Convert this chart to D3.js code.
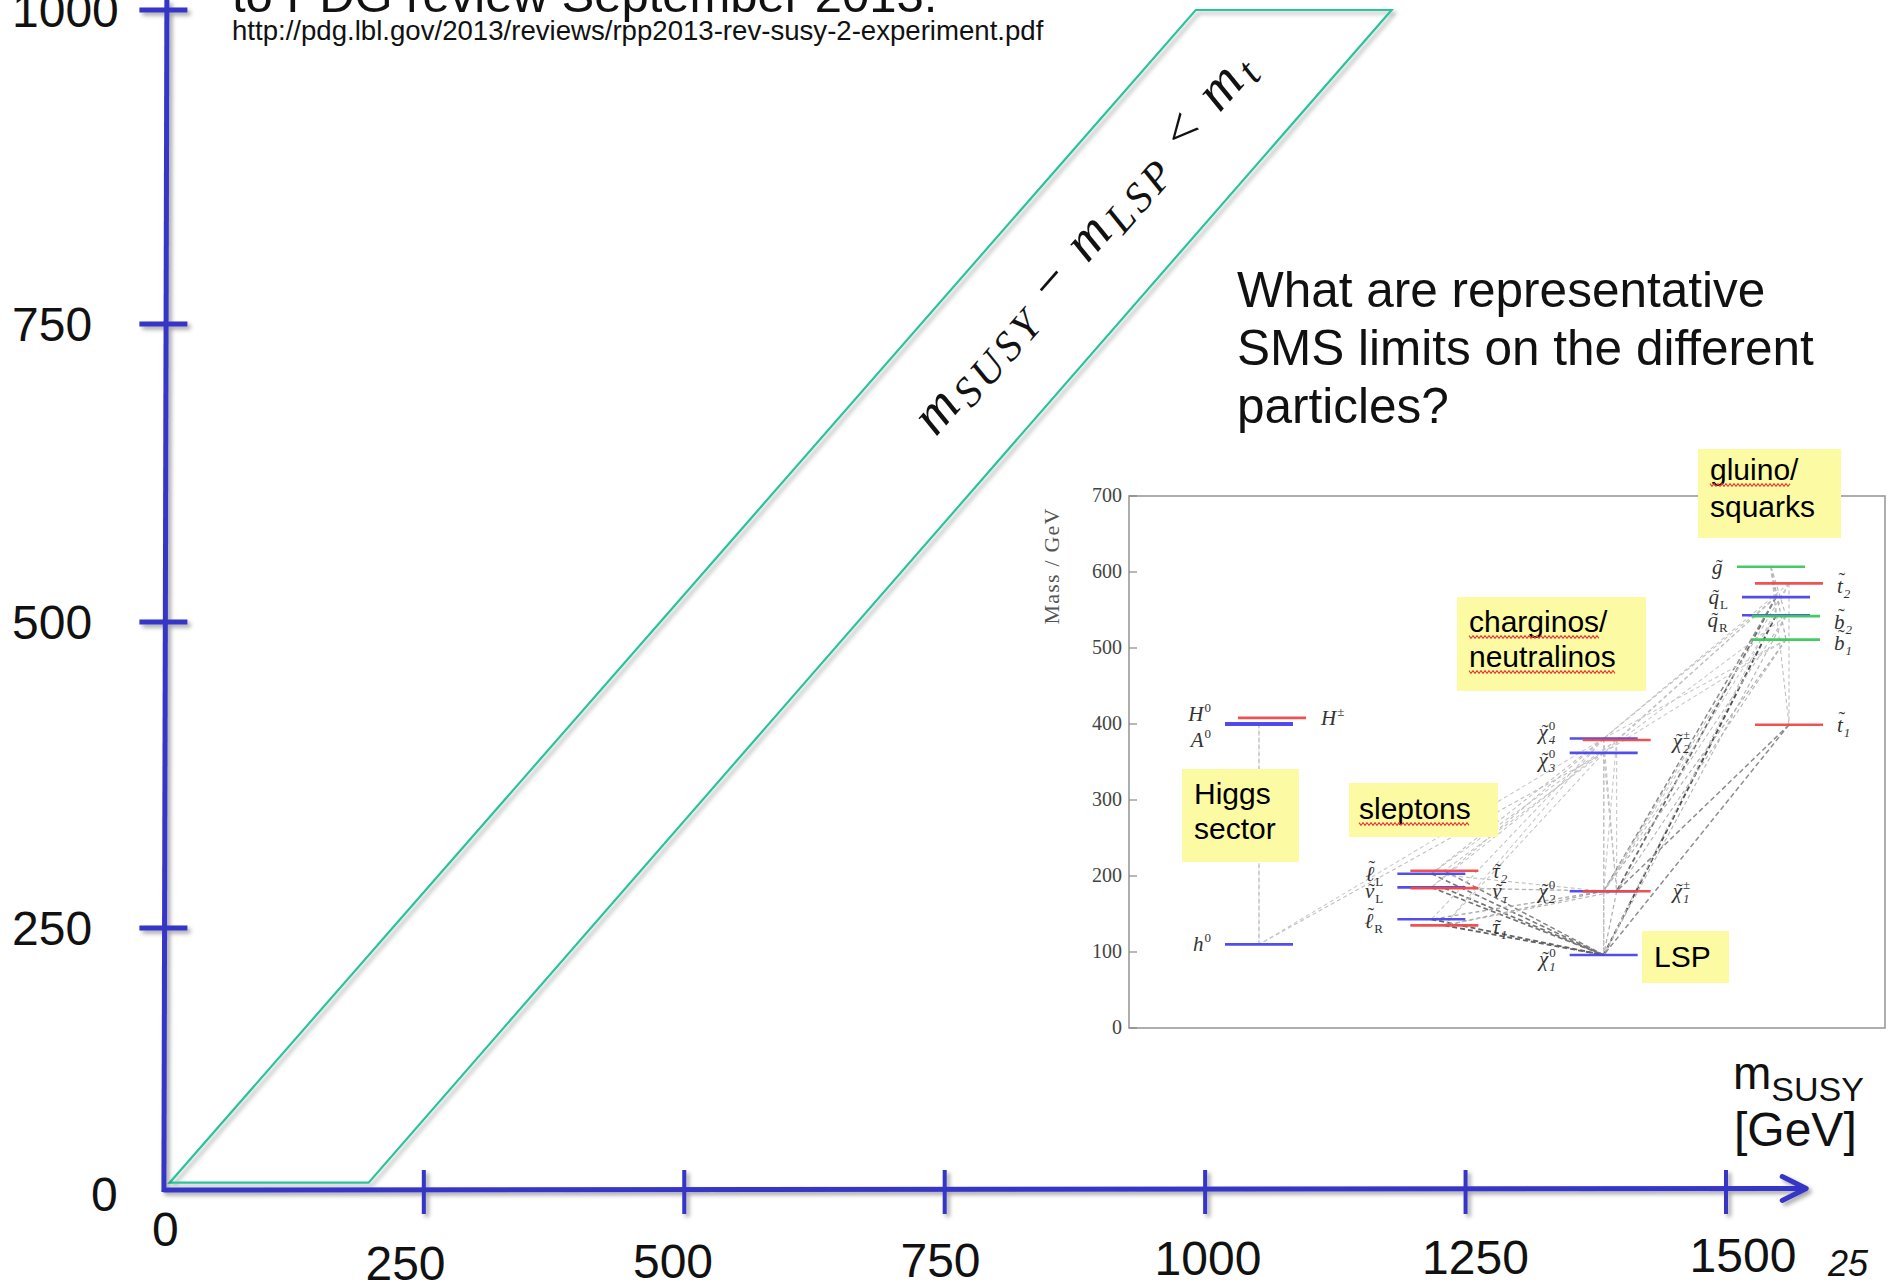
<!DOCTYPE html>
<html><head><meta charset="utf-8">
<script src="https://cdn.jsdelivr.net/npm/d3@7/dist/d3.min.js"></script>
<style>html,body{margin:0;padding:0;background:#fff}svg{display:block}</style>
</head><body>
<svg id="chart" width="1898" height="1285" xmlns="http://www.w3.org/2000/svg"></svg>
<script>
// ================= DATA =================
const xTickValues = [250, 500, 750, 1000, 1250, 1500];
const yTickValues = [250, 500, 750, 1000];
const originLabel = "0";
const xAxisEnd = 1577;                       // arrow tip, GeV
const bandMSUSY = [6, 197, 1179, 991];       // parallelogram corners (mSUSY)
const bandMLSP  = [7, 7, 1000, 1000];        // parallelogram corners (mLSP)
const titleText = "to PDG review September 2013.";
const urlText = "http://pdg.lbl.gov/2013/reviews/rpp2013-rev-susy-2-experiment.pdf";
const questionLines = ["What are representative", "SMS limits on the different", "particles?"];
const slideNumber = "25";

// inset: SUSY mass spectrum
const insetTicks = [0, 100, 200, 300, 400, 500, 600, 700];
const insetAxisTitle = "Mass / GeV";
const columns = ["higgs", "sleptons", "gauginos", "squarks"];
const particleNames   = ["h0","H0","A0","Hpm","lL","nuL","lR","tau2","nutau","tau1","chi01","chi02","chi03","chi04","chipm1","chipm2","gluino","qL","qR","t2","b2","b1","t1"];
const particleMasses  = [110, 401, 399, 408, 203, 185, 143, 207, 184, 135, 96, 180, 362, 381, 180, 379, 607, 567, 543, 585, 542, 511, 399];
const particleColumns = ["higgs","higgs","higgs","higgs","sleptons","sleptons","sleptons","sleptons","sleptons","sleptons","gauginos","gauginos","gauginos","gauginos","gauginos","gauginos","squarks","squarks","squarks","squarks","squarks","squarks","squarks"];
const particleGroups  = ["blue","blue","blue","red","blue","blue","blue","red","red","red","blue","blue","blue","blue","red","red","gluino","blue","blue","red","green","green","red"];
const particleBase    = ["h","H","A","H","\u2113","\u03BD","\u2113","\u03C4","\u03BD","\u03C4","\u03C7","\u03C7","\u03C7","\u03C7","\u03C7","\u03C7","g","q","q","t","b","b","t"];
const particleTilde   = [false,false,false,false,true,true,true,true,true,true,true,true,true,true,true,true,true,true,true,true,true,true,true];
const particleSup     = ["0","0","0","\u00B1","","","","","","","0","0","0","0","\u00B1","\u00B1","","","","","","",""];
const particleSub     = ["","","","","L","L","R","2","\u03C4","1","1","2","3","4","1","2","","L","R","2","2","1","1"];
// decays: parent, daughter, branching weight
const decayLinks = [
  ["H0","h0",0.15],["A0","h0",0.12],
  ["lL","chi01",0.55],["nuL","chi01",0.6],["lR","chi01",0.7],["tau2","chi01",0.5],["nutau","chi01",0.6],["tau1","chi01",0.7],
  ["lL","chi02",0.15],["nuL","chipm1",0.15],["chi02","lR",0.3],["chi02","tau1",0.3],["chipm1","nutau",0.2],["chipm1","tau1",0.2],
  ["chi02","chi01",0.25],["chipm1","chi01",0.25],
  ["chi03","chi01",0.15],["chi03","chi02",0.12],["chi03","chipm1",0.15],["chi04","chi01",0.12],["chi04","chipm1",0.15],["chi04","chi02",0.12],
  ["chipm2","chi02",0.12],["chipm2","chipm1",0.12],["chi03","h0",0.15],["chi04","h0",0.1],
  ["chi04","lL",0.15],["chi04","lR",0.12],["chi04","nuL",0.15],["chi03","tau1",0.12],["chi03","tau2",0.12],["chipm2","nuL",0.12],["chipm2","lL",0.12],["chi04","tau1",0.1],
  ["qL","chipm1",0.65],["qL","chi02",0.45],["qR","chi01",0.8],["b1","chi02",0.25],["b1","chipm1",0.2],["b2","chi01",0.2],["t2","chi02",0.15],["t2","chi01",0.12],
  ["t1","chi01",0.45],["t1","chipm1",0.45],
  ["qL","chi04",0.15],["qL","chi03",0.1],["qL","chipm2",0.15],["b1","chi04",0.1],["b2","chi03",0.1],["t2","chi04",0.12],["qR","chi02",0.1],["b2","chi02",0.15],["b1","chi03",0.1],
  ["gluino","qR",0.2],["gluino","qL",0.2],["gluino","b1",0.25],["gluino","b2",0.2],["gluino","t1",0.15],["t2","t1",0.15]
];
const boxTexts = [["Higgs","sector"],["sleptons"],["charginos/","neutralinos"],["gluino/","squarks"],["LSP"]];

// ================= DRAWING =================
const W = 1898, H = 1285;
const SANS = "'Liberation Sans', Arial, Helvetica, sans-serif";
const SERIF = "'Liberation Serif', 'Times New Roman', serif";
const svg = d3.select("#chart");
const defs = svg.append("defs");
const sh = defs.append("filter").attr("id","shadow").attr("filterUnits","userSpaceOnUse")
  .attr("x",0).attr("y",0).attr("width",W).attr("height",H);
sh.append("feDropShadow").attr("dx",3).attr("dy",3).attr("stdDeviation",2.2)
  .attr("flood-color","#000").attr("flood-opacity",0.35);

// main scales (hand-drawn y axis => piecewise linear through its ticks)
const x = d3.scaleLinear().domain([0, 1500]).range([163.4, 1726]);
const y = d3.scaleLinear().domain([0, 250, 500, 750, 1000]).range([1190, 928, 622, 324, 10]);
// the hand-placed tick labels sit on a slightly wider spacing than the ticks
const xLabelPos = d3.scaleLinear().domain([0, 1500]).range([138, 1743]);
const AX = "#3434c6";

// band
const bandPts = bandMSUSY.map((m, i) => [x(m), y(bandMLSP[i])]);
svg.append("path")
  .attr("d", d3.line()(bandPts) + "Z")
  .attr("fill", "none").attr("stroke", "#2cc39c").attr("stroke-width", 2.2)
  .attr("stroke-linejoin","miter")
  .attr("filter", "url(#shadow)");

// axes
const axes = svg.append("g").attr("filter", "url(#shadow)")
  .attr("stroke", AX).attr("fill","none");
axes.append("line").attr("x1", x(0) + 0.5).attr("y1", y(0) + 2)
  .attr("x2", x(0) + 3.5).attr("y2", 0).attr("stroke-width", 5);
axes.append("line").attr("x1", x(0)).attr("y1", y(0))
  .attr("x2", x(xAxisEnd) - 2).attr("y2", y(0) - 1.5).attr("stroke-width", 5);
axes.append("path")
  .attr("d", `M${x(xAxisEnd) - 24},${y(0) - 13.5} L${x(xAxisEnd)},${y(0) - 1.5} L${x(xAxisEnd) - 24},${y(0) + 10.5}`)
  .attr("stroke-width", 5).attr("stroke-linecap","round").attr("stroke-linejoin","round");
axes.selectAll("line.xt").data(xTickValues).join("line").attr("class","xt")
  .attr("x1", d => x(d)).attr("x2", d => x(d))
  .attr("y1", y(0) - 20).attr("y2", y(0) + 24).attr("stroke-width", 4);
axes.selectAll("line.yt").data(yTickValues).join("line").attr("class","yt")
  .attr("y1", d => y(d)).attr("y2", d => y(d))
  .attr("x1", x(0) - 24).attr("x2", x(0) + 24).attr("stroke-width", 5);

// axis labels
const txt = svg.append("g").attr("font-family", SANS).attr("fill", "#111");
txt.selectAll("text.xl").data(xTickValues).join("text").attr("class","xl")
  .attr("x", d => xLabelPos(d)).attr("y", d => 1281 - (d / 1500) * 9)
  .attr("text-anchor","middle").attr("font-size", 48).text(d => d);
txt.selectAll("text.yl").data(yTickValues).join("text").attr("class","yl")
  .attr("x", 12).attr("y", d => y(d) + 17)
  .attr("font-size", 48).text(d => d);
txt.append("text").attr("x", x(0) + 2).attr("y", 1246).attr("text-anchor","middle")
  .attr("font-size", 48).text(originLabel);
txt.append("text").attr("x", 91).attr("y", y(0) + 21).attr("font-size", 48).text(originLabel);

// x axis title
const xt = txt.append("text").attr("x", 1733).attr("y", 1089).attr("font-size", 46);
xt.append("tspan").text("m");
xt.append("tspan").attr("font-size", 34).attr("dy", 12).text("SUSY");
txt.append("text").attr("x", 1734).attr("y", 1146).attr("font-size", 48).text("[GeV]");

// slide number
txt.append("text").attr("x", 1828).attr("y", 1276).attr("font-size", 36)
  .attr("font-style","italic").text(slideNumber);

// title & url
txt.append("text").attr("x", 232).attr("y", 12).attr("font-size", 49).text(titleText);
txt.append("text").attr("x", 232).attr("y", 40).attr("font-size", 27.6).text(urlText);

// question
txt.selectAll("text.q").data(questionLines).join("text").attr("class","q")
  .attr("x", 1237).attr("y", (d, i) => 307 + i * 58).attr("font-size", 49.5).text(d => d);

// band label
{
  const t = 0.8;
  const L = d3.interpolate(bandPts[0], bandPts[3])(t);
  const R = d3.interpolate(bandPts[1], bandPts[2])(t);
  const cx = (L[0] + R[0]) / 2, cy = (L[1] + R[1]) / 2;
  const ang = Math.atan2(bandPts[3][1] - bandPts[0][1], bandPts[3][0] - bandPts[0][0]) * 180 / Math.PI;
  const g = svg.append("g").attr("transform", `translate(${cx},${cy}) rotate(${ang})`);
  const lt = g.append("text").attr("font-family", SERIF).attr("font-size", 54)
    .attr("text-anchor","middle").attr("y", 12).attr("fill","#111");
  const parts = [["m","italic",56,0],["SUSY","italic",42,8],[" \u2212 ","normal",54,-8],["m","italic",56,0],["LSP","italic",42,8],[" < ","normal",54,-8],["m","italic",56,0],["t","italic",42,8]];
  parts.forEach(p => lt.append("tspan").attr("font-style", p[1]).attr("font-size", p[2]).attr("dy", p[3]).text(p[0]));
  const len = lt.node().getComputedTextLength();
  const nChars = parts.reduce((a, p) => a + p[0].length, 0);
  lt.attr("letter-spacing", Math.max(0, (492 - len) / nChars));
}

// ================= INSET =================
const inset = svg.append("g");
const iy = d3.scaleLinear().domain([0, 700]).range([1028, 496]);
const ix = d3.scalePoint().domain(columns).range([1259, 1776]);
const colorOf = d3.scaleOrdinal().domain(["blue","red","green","gluino"])
  .range(["#4b44ee","#f04848","#3cc85c","#3cc85c"]);
const shiftOf = {blue: 0, red: 13, green: 10, gluino: -5};
const HALF = 34;
const parts = particleNames.map((n, i) => ({
  name: n, mass: particleMasses[i], col: particleColumns[i], grp: particleGroups[i],
  base: particleBase[i], tilde: particleTilde[i], sup: particleSup[i], sub: particleSub[i]
}));
const byName = Object.fromEntries(parts.map(p => [p.name, p]));
const cxOf = p => ix(p.col) + shiftOf[p.grp];

inset.append("rect").attr("x", 1129).attr("y", iy(700)).attr("width", 1885 - 1129)
  .attr("height", iy(0) - iy(700)).attr("fill", "#fff").attr("stroke", "#9a9a9a").attr("stroke-width", 1.6);
inset.selectAll("line.it").data(insetTicks).join("line").attr("class","it")
  .attr("x1", 1129).attr("x2", 1137).attr("y1", d => iy(d)).attr("y2", d => iy(d))
  .attr("stroke", "#888").attr("stroke-width", 1.2);
inset.selectAll("text.il").data(insetTicks).join("text").attr("class","il")
  .attr("x", 1122).attr("y", d => iy(d) + 6).attr("text-anchor","end")
  .attr("font-family", SERIF).attr("font-size", 20).attr("fill", "#444").text(d => d);
inset.append("text").attr("transform", "translate(1059,566) rotate(-90)")
  .attr("text-anchor","middle").attr("font-family", SERIF).attr("font-size", 22)
  .attr("letter-spacing", 1.2).attr("fill", "#555").text(insetAxisTitle);

// decay links
const shade = d3.interpolateRgb("#d8d8d8", "#303030");
inset.selectAll("line.dk").data(decayLinks).join("line").attr("class","dk")
  .attr("x1", d => cxOf(byName[d[0]])).attr("y1", d => iy(byName[d[0]].mass))
  .attr("x2", d => cxOf(byName[d[1]])).attr("y2", d => iy(byName[d[1]].mass))
  .attr("stroke", d => shade(d[2])).attr("stroke-width", d => 0.9 + d[2] * 1.3)
  .attr("stroke-dasharray", d => d[2] > 0.4 ? "5,3" : "4,3");

// levels
inset.selectAll("line.lv").data(parts).join("line").attr("class","lv")
  .attr("x1", p => cxOf(p) - HALF).attr("x2", p => cxOf(p) + HALF)
  .attr("y1", p => iy(p.mass)).attr("y2", p => iy(p.mass))
  .attr("stroke", p => colorOf(p.grp)).attr("stroke-width", 2.6).attr("opacity", 0.95);

// level labels: one text element per particle (base, tilde, sup, sub as tspans)
const nudge = {H0: -9, A0: 15, chi04: -6, chi03: 7, nuL: 4, nutau: 3, lR: 2, tau1: 2, qR: 5, b2: 6, b1: 3, t2: 3, chi01: 4, chipm2: 1};
const tallGlyph = new Set(["\u2113", "b", "t"]);
parts.forEach(p => {
  const left = (p.grp === "blue" || p.grp === "gluino");
  const t = inset.append("text").attr("font-family", SERIF).attr("fill", "#333");
  const b = t.append("tspan").attr("x", 0).attr("y", 0).attr("font-style","italic").attr("font-size", 21).text(p.base);
  const bw = b.node().getComputedTextLength();
  if (p.tilde) {
    const tl = t.append("tspan").attr("y", tallGlyph.has(p.base) ? -6 : 0).attr("font-size", 20).text("\u02DC");
    const tw = tl.node().getComputedTextLength();
    tl.attr("x", bw / 2 + 2 - tw / 2);
  }
  if (p.sup) t.append("tspan").attr("x", bw + 1).attr("y", -9).attr("font-size", 13).text(p.sup);
  if (p.sub) t.append("tspan").attr("x", bw + 1).attr("y", 5)
    .attr("font-size", 13).attr("font-style", /[0-9]/.test(p.sub) || p.sub === "\u03C4" ? "italic" : "normal").text(p.sub);
  const bb = t.node().getBBox();
  const gap = (p.col === "gauginos" && !left) ? 20 : 14;
  const tx = left ? (cxOf(p) - HALF - 14 - bb.width - bb.x) : (cxOf(p) + HALF + gap - bb.x);
  t.attr("transform", `translate(${tx},${iy(p.mass) + 7 + (nudge[p.name] || 0)})`);
});

// yellow annotation boxes
const boxLayout = [
  {x: 1182, y: 769, w: 117, h: 93, tx: 1194, ty: [804, 839], wavy: [false, false]},
  {x: 1349, y: 783, w: 149, h: 54, tx: 1359, ty: [819], wavy: ["sleptons"]},
  {x: 1457, y: 597, w: 189, h: 94, tx: 1469, ty: [632, 667], wavy: ["charginos", "neutralinos"]},
  {x: 1698, y: 449, w: 143, h: 89, tx: 1710, ty: [480, 517], wavy: ["gluino", false]},
  {x: 1642, y: 931, w: 87, h: 52, tx: 1654, ty: [967], wavy: [false]}
];
boxTexts.forEach((lines, i) => {
  const L = boxLayout[i];
  const g = inset.append("g");
  g.append("rect").attr("x", L.x).attr("y", L.y).attr("width", L.w).attr("height", L.h).attr("fill", "#fcfaa2");
  lines.forEach((s, j) => {
    const tt = g.append("text").attr("x", L.tx).attr("y", L.ty[j]).attr("font-family", SANS)
      .attr("font-size", 30).attr("fill", "#000").text(s);
    const wv = L.wavy[j];
    if (wv) {
      const wlen = tt.node().getSubStringLength(0, wv.length);
      const yy = L.ty[j] + 5;
      const pts = d3.range(0, Math.floor(wlen / 2) + 1).map(k => [L.tx + k * 2, yy + (k % 2 ? 1.4 : -1.4)]);
      g.append("path").attr("d", d3.line()(pts)).attr("fill","none").attr("stroke","#e83a3a").attr("stroke-width", 1.1);
    }
  });
});
</script>
</body></html>
